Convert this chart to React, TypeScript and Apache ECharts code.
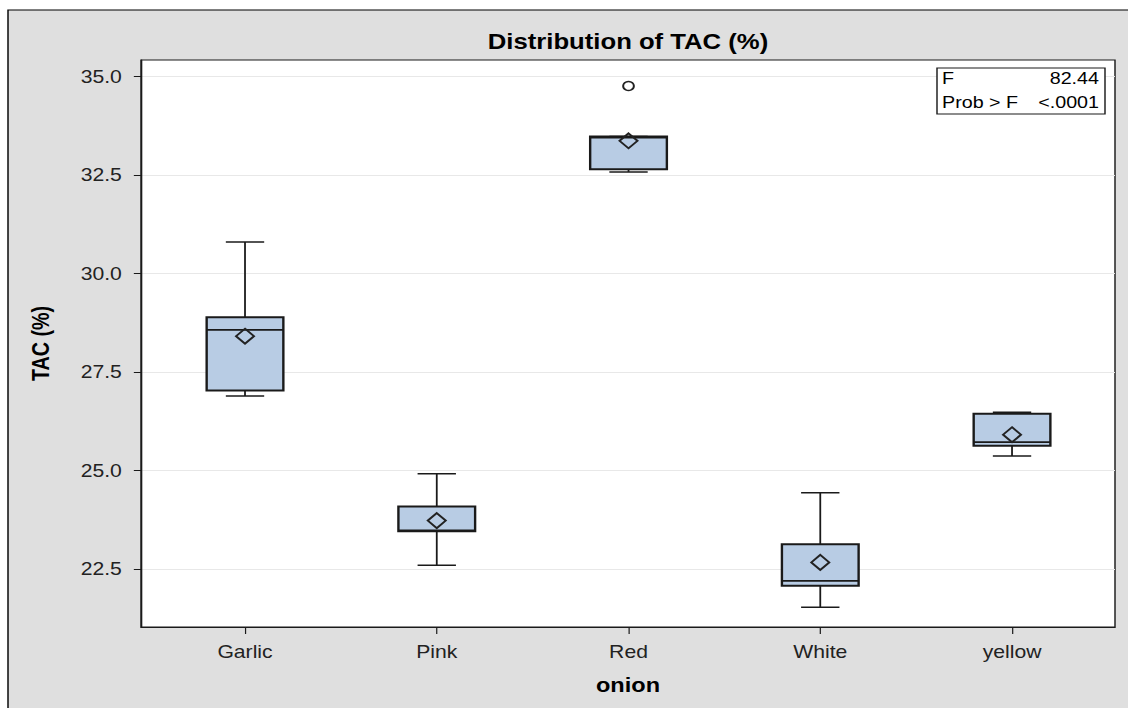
import React, { useEffect, useRef } from 'react';
import * as echarts from 'echarts';

// ---- data ----
const categories = ['Garlic', 'Pink', 'Red', 'White', 'yellow'];
const whiskerLow = [26.89, 22.6, 32.58, 21.53, 25.37];
const q1 = [27.03, 23.46, 32.65, 22.08, 25.63];
const median = [28.57, 23.48, 33.45, 22.2, 25.72];
const q3 = [28.89, 24.09, 33.48, 23.13, 26.44];
const whiskerHigh = [30.8, 24.92, 33.48, 24.44, 26.48];
const means = [28.41, 23.73, 33.37, 22.67, 25.91];
const outlierCategories = ['Red'];
const outlierValues = [34.76];
const yTickValues = [22.5, 25.0, 27.5, 30.0, 32.5, 35.0];
const statNames = ['F', 'Prob > F'];
const statValues = ['82.44', '<.0001'];
const titleText = 'Distribution of TAC (%)';
const xAxisTitle = 'onion';
const yAxisTitle = 'TAC (%)';

// ---- layout helpers ----
const SX = 1.7625 / 1.475; // the reference image is stretched horizontally
const W = 1128 / SX;
const H = 708;
const FONT = '"Liberation Sans", Arial, Helvetica, sans-serif';
const px = (x: number) => x / SX; // convert page x to chart x
const LINE = '#1a1a1a';

function buildOption() {
  const catIdx = categories.map((_, i) => i);
  return {
    animation: false,
    backgroundColor: 'transparent',
    textStyle: { fontFamily: FONT },
    grid: {
      left: px(141),
      right: W - px(1115),
      top: 60,
      bottom: 81,
      show: true,
      backgroundColor: '#ffffff',
      borderColor: LINE,
      borderWidth: 1.2,
    },
    xAxis: {
      type: 'value',
      min: -0.5424,
      max: 4.537,
      axisLine: { show: true, onZero: false, lineStyle: { color: LINE, width: 1.2 } },
      axisTick: { show: true, length: 7, customValues: catIdx, lineStyle: { color: LINE } },
      axisLabel: {
        customValues: catIdx,
        formatter: (v: number) => categories[Math.round(v)] ?? '',
        margin: 16,
        color: '#222',
        fontSize: 17.7,
        fontFamily: FONT,
      },
      splitLine: { show: false },
    },
    yAxis: {
      type: 'value',
      min: 21.03,
      max: 35.42,
      axisLine: { show: true, onZero: false, lineStyle: { color: LINE, width: 1.2 } },
      axisTick: { show: true, length: 6, customValues: yTickValues, lineStyle: { color: LINE } },
      axisLabel: {
        customValues: yTickValues,
        formatter: (v: number) => v.toFixed(1),
        margin: 16,
        color: '#222',
        fontSize: 17.7,
        fontFamily: FONT,
      },
      splitLine: { show: true, lineStyle: { color: '#e8e8e8', width: 1 } },
    },
    graphic: [
      {
        type: 'rect',
        z: -100,
        silent: true,
        shape: { x: px(8), y: 10, width: W, height: H },
        style: { fill: '#dfdfdf', stroke: '#000', lineWidth: 1.2 },
      },
      {
        type: 'text',
        x: px(628),
        y: 42,
        style: {
          text: titleText,
          fill: '#000',
          fontSize: 21.5,
          fontWeight: 'bold',
          fontFamily: FONT,
          align: 'center',
          verticalAlign: 'middle',
          textAlign: 'center',
          textVerticalAlign: 'middle',
        },
      },
      {
        type: 'text',
        x: px(41),
        y: 343.5,
        rotation: Math.PI / 2,
        style: {
          text: yAxisTitle,
          fill: '#000',
          fontSize: 19.7,
          fontWeight: 'bold',
          fontFamily: FONT,
          align: 'center',
          verticalAlign: 'middle',
          textAlign: 'center',
          textVerticalAlign: 'middle',
        },
      },
      {
        type: 'text',
        x: px(628),
        y: 685,
        style: {
          text: xAxisTitle,
          fill: '#000',
          fontSize: 19.7,
          fontWeight: 'bold',
          fontFamily: FONT,
          align: 'center',
          verticalAlign: 'middle',
          textAlign: 'center',
          textVerticalAlign: 'middle',
        },
      },
      {
        type: 'rect',
        z: 50,
        shape: { x: px(937), y: 68, width: px(1105) - px(937), height: 46 },
        style: { fill: '#fff', stroke: LINE, lineWidth: 1.2 },
      },
      ...statNames.map((t, i) => ({
        type: 'text',
        z: 51,
        x: px(942),
        y: 79 + i * 24,
        style: {
          text: t,
          fill: '#000',
          fontSize: 16.5,
          fontFamily: FONT,
          align: 'left',
          verticalAlign: 'middle',
          textAlign: 'left',
          textVerticalAlign: 'middle',
        },
      })),
      ...statValues.map((t, i) => ({
        type: 'text',
        z: 51,
        x: px(1099),
        y: 79 + i * 24,
        style: {
          text: t,
          fill: '#000',
          fontSize: 16.5,
          fontFamily: FONT,
          align: 'right',
          verticalAlign: 'middle',
          textAlign: 'right',
          textVerticalAlign: 'middle',
        },
      })),
    ],
    series: [
      {
        type: 'custom',
        z: 3,
        silent: true,
        data: categories.map((_, i) => [i, whiskerLow[i], q1[i], median[i], q3[i], whiskerHigh[i]]),
        encode: { x: 0, y: [1, 2, 3, 4, 5] },
        renderItem: (params: any, api: any) => {
          const x = api.value(0);
          const lo = api.coord([x, api.value(1)]);
          const b1 = api.coord([x, api.value(2)]);
          const md = api.coord([x, api.value(3)]);
          const b3 = api.coord([x, api.value(4)]);
          const hi = api.coord([x, api.value(5)]);
          const band = api.size([1, 0])[0];
          const bw = band * 0.4;
          const cap = bw / 4;
          const cx = lo[0];
          const ls = { stroke: LINE, lineWidth: 1.5 };
          return {
            type: 'group',
            children: [
              { type: 'line', shape: { x1: cx, y1: hi[1], x2: cx, y2: b3[1] }, style: ls },
              { type: 'line', shape: { x1: cx - cap, y1: hi[1], x2: cx + cap, y2: hi[1] }, style: ls },
              { type: 'line', shape: { x1: cx, y1: b1[1], x2: cx, y2: lo[1] }, style: ls },
              { type: 'line', shape: { x1: cx - cap, y1: lo[1], x2: cx + cap, y2: lo[1] }, style: ls },
              {
                type: 'rect',
                shape: { x: cx - bw / 2, y: b3[1], width: bw, height: b1[1] - b3[1] },
                style: { fill: '#b8cce4', stroke: LINE, lineWidth: 2 },
              },
              {
                type: 'line',
                shape: { x1: cx - bw / 2, y1: md[1], x2: cx + bw / 2, y2: md[1] },
                style: { stroke: LINE, lineWidth: 1.8 },
              },
            ],
          };
        },
      },
      {
        type: 'scatter',
        z: 4,
        silent: true,
        symbol: 'diamond',
        symbolSize: 15,
        data: means.map((m, i) => [i, m]),
        itemStyle: { color: 'rgba(0,0,0,0)', borderColor: '#222', borderWidth: 1.8, opacity: 1 },
      },
      {
        type: 'scatter',
        z: 4,
        silent: true,
        symbol: 'circle',
        symbolSize: 9,
        data: outlierCategories.map((c, i) => [categories.indexOf(c), outlierValues[i]]),
        itemStyle: { color: 'rgba(0,0,0,0)', borderColor: '#222', borderWidth: 1.6, opacity: 1 },
      },
    ],
  };
}

export default function App() {
  const ref = useRef<HTMLDivElement>(null);
  useEffect(() => {
    if (!ref.current) return;
    const chart = echarts.init(ref.current, undefined, { renderer: 'svg', width: W, height: H });
    chart.setOption(buildOption() as any);
    return () => chart.dispose();
  }, []);
  return (
    <div
      style={{
        position: 'fixed',
        left: 0,
        top: 0,
        width: 1128,
        height: 708,
        overflow: 'hidden',
        background: '#fff',
      }}
    >
      <div
        ref={ref}
        style={{ width: W, height: H, transform: `scaleX(${SX})`, transformOrigin: '0 0' }}
      />
    </div>
  );
}
